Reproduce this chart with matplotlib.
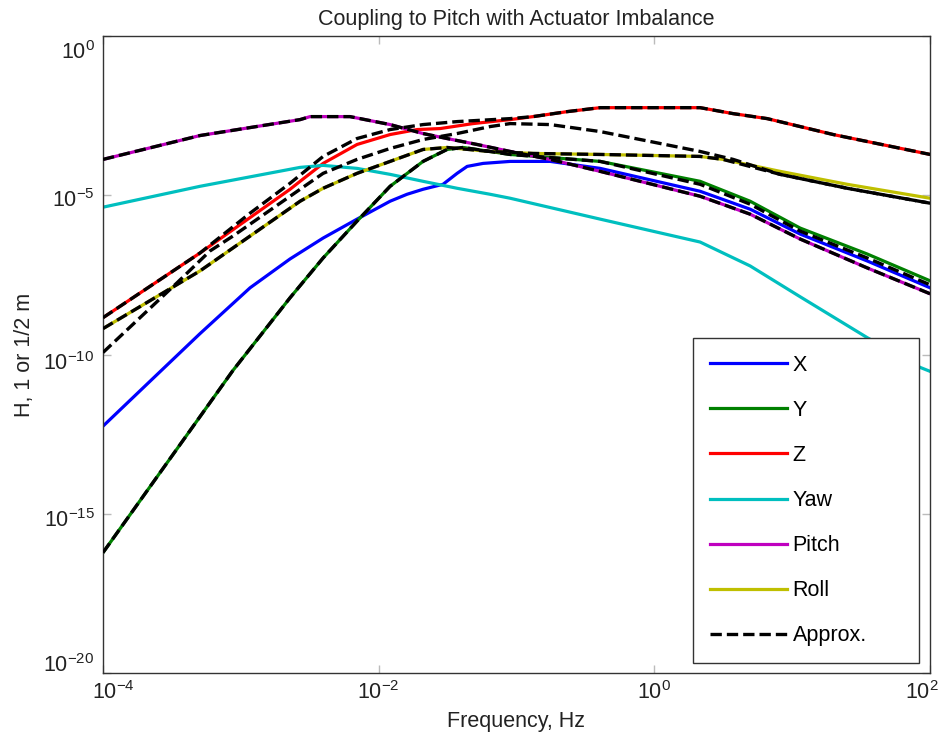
import numpy as np
import matplotlib
matplotlib.use("Agg")
import matplotlib.pyplot as plt
import matplotlib.transforms as mtransforms

plt.rcParams['font.family'] = ['Liberation Sans', 'DejaVu Sans']
plt.rcParams['mathtext.fontset'] = 'custom'
plt.rcParams['mathtext.rm'] = 'Liberation Sans'
plt.rcParams['mathtext.it'] = 'Liberation Sans:italic'
plt.rcParams['mathtext.bf'] = 'Liberation Sans:bold'

# ---- data: log10(frequency / Hz) and log10(H) ----
x_logf = [-4, -3.637, -3.296, -2.933, -2.643, -2.403, -2.157, -1.917, -1.794, -1.678, -1.533,
          -1.431, -1.358, -1.242, -1.046, -0.756, -0.393, 0.332, 0.695, 1.058, 1.544, 2.001]
x_logh = [-12.25, -10.75, -9.344, -7.906, -7.0, -6.344, -5.75, -5.1875, -4.969, -4.8125, -4.656,
          -4.3125, -4.094, -4.0, -3.9375, -3.9375, -4.156, -4.875, -5.4375, -6.219, -7.0625, -7.906]

y_logf = [-4, -3.057, -2.643, -2.403, -2.157, -1.917, -1.678, -1.504, -1.387, -1.192, -1.046,
          -0.393, 0.332, 0.695, 1.058, 1.544, 2.001]
y_logh = [-16.22, -10.5, -8.219, -6.969, -5.8125, -4.719, -3.9375, -3.5625, -3.5, -3.625, -3.719,
          -3.9375, -4.5625, -5.1875, -6.031, -6.844, -7.6875]

z_logf = [-4, -3.296, -2.643, -2.570, -2.403, -2.157, -1.917, -1.721, -1.554, -1.315, -1.046,
          -0.880, -0.633, -0.393, 0.332, 0.572, 0.819, 1.298, 2.001]
z_logh = [-8.844, -6.8125, -4.8125, -4.5625, -4.0, -3.406, -3.094, -2.9375, -2.906, -2.75, -2.625,
          -2.531, -2.375, -2.25, -2.25, -2.4375, -2.594, -3.094, -3.719]

yaw_logf = [-4, -3.296, -2.570, -2.403, -2.157, -1.917, -1.678, -1.431, -1.192, -1.046, -0.393,
            0.332, 0.695, 1.058, 1.544, 1.929, 2.001]
yaw_logh = [-5.375, -4.719, -4.125, -4.0625, -4.156, -4.344, -4.5625, -4.781, -4.969, -5.094, -5.75,
            -6.469, -7.219, -8.1875, -9.469, -10.406, -10.53]

pitch_logf = [-4, -3.296, -2.570, -2.498, -2.208, -1.917, -1.678, -1.504, -1.286, -1.046, -0.756,
              -0.393, 0.332, 0.695, 1.058, 1.544, 2.001]
pitch_logh = [-3.875, -3.125, -2.625, -2.531, -2.531, -2.781, -3.0625, -3.219, -3.406, -3.625, -3.875,
              -4.25, -5.031, -5.594, -6.375, -7.281, -8.094]

roll_logf = [-4, -3.296, -2.570, -2.403, -2.157, -1.917, -1.678, -1.504, -1.192, -0.880, -0.393,
             0.332, 0.499, 0.913, 1.399, 2.001]
roll_logh = [-9.1875, -7.375, -5.1875, -4.781, -4.3125, -3.9375, -3.5625, -3.5, -3.625, -3.6875, -3.719,
             -3.781, -3.875, -4.25, -4.656, -5.094]

# approximations (black dashed)
apx_pitch_logf = pitch_logf
apx_pitch_logh = pitch_logh

apx_z_logf = [-4, -3.296, -2.933, -2.643, -2.403, -2.157, -1.917, -1.678, -1.431, -1.046, -0.880,
              -0.633, -0.393, 0.332, 0.572, 0.819, 1.298, 2.001]
apx_z_logh = [-8.844, -6.8125, -5.5625, -4.625, -3.781, -3.219, -2.9375, -2.781, -2.6875, -2.594, -2.531,
              -2.375, -2.25, -2.25, -2.4375, -2.594, -3.094, -3.719]

apx_roll_logf = roll_logf
apx_roll_logh = [-9.1875, -7.375, -5.1875, -4.781, -4.3125, -3.9375, -3.5625, -3.5, -3.625, -3.6875, -3.719,
                 -3.781, -3.875, -4.344, -4.781, -5.25]

apx_x_logf = [-4, -3.463, -3.224, -3.057, -2.570, -2.403, -2.157, -1.917, -1.678, -1.431, -1.192,
              -1.046, -0.756, -0.393, -0.030, 0.332, 0.572, 0.913, 1.399, 2.001]
apx_x_logh = [-9.9375, -7.75, -6.75, -6.281, -4.8125, -4.3125, -3.875, -3.531, -3.25, -3.0625, -2.844,
              -2.75, -2.781, -3.0, -3.3125, -3.625, -3.875, -4.344, -4.781, -5.25]

apx_y_logf = y_logf
apx_y_logh = [-16.22, -10.5, -8.219, -6.969, -5.8125, -4.719, -3.9375, -3.5625, -3.5, -3.625, -3.719,
              -3.9375, -4.656, -5.281, -6.125, -6.969, -7.8125]

x_ticks = [1e-4, 1e-2, 1e0, 1e2]
y_ticks = [1e-20, 1e-15, 1e-10, 1e-5, 1e0]

labels = ['X', 'Y', 'Z', 'Yaw', 'Pitch', 'Roll', 'Approx.']
colors = ['#0000ff', '#008000', '#ff0000', '#00bfbf', '#bf00bf', '#bfbf00', '#000000']

series = [(x_logf, x_logh), (y_logf, y_logh), (z_logf, z_logh),
          (yaw_logf, yaw_logh), (pitch_logf, pitch_logh), (roll_logf, roll_logh)]
approx = [(apx_pitch_logf, apx_pitch_logh), (apx_z_logf, apx_z_logh),
          (apx_roll_logf, apx_roll_logh), (apx_x_logf, apx_x_logh),
          (apx_y_logf, apx_y_logh)]

fig = plt.figure(figsize=(9.45, 7.38), dpi=100)
ax = fig.add_axes([103/945, 1-673/738, (930-103)/945, (673-36)/738])

handles = []
for (lf, lh), c, lab in zip(series, colors[:6], labels[:6]):
    h, = ax.plot(10**np.array(lf), 10**np.array(lh), color=c, lw=2.3, label=lab,
                 solid_joinstyle='round')
    handles.append(h)
for i, (lf, lh) in enumerate(approx):
    h, = ax.plot(10**np.array(lf), 10**np.array(lh), color='k', lw=2.4,
                 dashes=(3.4, 1.5), label=labels[6] if i == 0 else None, zorder=3)
    if i == 0:
        handles.append(h)

ax.set_xscale('log')
ax.set_yscale('log')
ax.set_xlim(1e-4, 1e2)
ax.set_ylim(1e-20, 1e0)
ax.set_xticks(x_ticks)
ax.set_yticks(y_ticks)
ax.minorticks_off()
ax.tick_params(which='both', direction='in', length=6, width=1, color='#bbbbbb',
               top=True, right=True, labelsize=15.5, labelcolor='#222222', pad=6)
for s in ax.spines.values():
    s.set_color('#333333')
    s.set_linewidth(1.0)

# MATLAB-style nudges of the end tick labels (pixels)
def nudge(lbl, dx, dy):
    off = mtransforms.ScaledTranslation(dx/100, dy/100, fig.dpi_scale_trans)
    lbl.set_transform(lbl.get_transform() + off)

ylbls = ax.get_yticklabels()
for lbl, dy in zip(ylbls, [10, -4, -7, -3, -14]):
    nudge(lbl, 0, dy)
xlbls = ax.get_xticklabels()
nudge(xlbls[0], 10, 0)
nudge(xlbls[-1], -8, 0)

ax.set_title('Coupling to Pitch with Actuator Imbalance', fontsize=15.5, color='#222222', pad=8)
ax.set_xlabel('Frequency, Hz', fontsize=15.5, color='#222222', labelpad=5)
ax.set_ylabel('H, 1 or 1/2 m', fontsize=15.5, color='#222222', labelpad=6)

# legend box: x 693..919 px, top at 338 px
x0 = (693-103)/(930-103)
x1 = (919-103)/(930-103)
ytop = (673-338)/(673-36)
leg = ax.legend(handles=handles, loc='upper left', bbox_to_anchor=(x0, ytop, x1-x0, 0.0),
                mode='expand', fontsize=15.5, handlelength=3.6, handletextpad=0.25,
                labelspacing=1.12, borderpad=0.78, borderaxespad=0, fancybox=False,
                framealpha=1, edgecolor='#333333')
leg.get_frame().set_linewidth(1.0)

fig.savefig('out.png', dpi=100)
